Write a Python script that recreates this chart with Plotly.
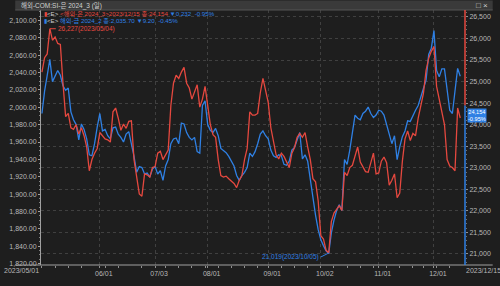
import pandas as pd
import plotly.graph_objects as go

# ---------------- data ----------------
holidays = ["2023-05-29", "2023-06-19", "2023-07-04", "2023-09-04", "2023-11-23"]
dates = [d for d in pd.bdate_range("2023-05-01", "2023-12-15").strftime("%Y-%m-%d") if d not in holidays]

silver = [25221, 25554, 25642, 26227, 25960, 26034, 25886, 25864, 24962, 24186,
          24260, 23928, 23891, 24002, 23780, 23928, 23743, 23484, 22930, 23189,
          23337, 23447, 23817, 23743, 23669, 23647, 23595, 24297, 24386, 24149,
          23869, 24016, 23913, 24075, 24090, 23189, 22745, 22391, 22339, 22856,
          22834, 22782, 23004, 23026, 23337, 23380, 23189, 23300, 23410, 24445,
          24962, 25147, 25073, 25220, 25332, 24962, 24851, 24593, 24755, 24925,
          24408, 24593, 24888, 24371, 24002, 23765, 23706, 23189, 22819, 22782,
          22804, 22745, 22686, 22634, 22538, 22708, 22819, 23189, 23447, 24297,
          24223, 24223, 24260, 24741, 25073, 24778, 24519, 23928, 23632, 23300,
          23204, 23337, 23263, 23115, 23004, 23337, 23470, 23706, 23795, 23706,
          23817, 23484, 23189, 22745, 22671, 22228, 21420, 21341, 21083, 21019,
          21748, 21947, 22043, 22117, 22006, 22893, 22819, 23004, 23056, 23300,
          23484, 23130, 23004, 22908, 22893, 23115, 23337, 22856, 22878, 23152,
          23248, 23115, 22597, 22708, 22856, 22302, 22413, 23152, 23669, 23854,
          23632, 23795, 23743, 24149, 24408, 24726, 25258, 25539, 25701, 25812,
          24888, 24593, 24297, 24002, 23189, 23041, 23004, 22930, 24386, 24154]

gold = [1992.9, 2018.6, 2036.9, 2055.3, 2029.6, 2035.1, 2042.4, 2036.9, 2024.8, 2019.7,
        2022.3, 1994.8, 1985.6, 1980.1, 1962.5, 1980.8, 1974.6, 1963.6, 1945.3, 1944.2,
        1958.1, 1977.2, 1992.9, 1972.8, 1974.6, 1967.3, 1963.6, 1976.4, 1977.2, 1969.1,
        1965.4, 1960.0, 1969.1, 1972.0, 1958.1, 1943.4, 1925.1, 1931.7, 1930.6, 1923.2,
        1924.3, 1919.6, 1928.8, 1931.7, 1923.2, 1926.9, 1915.9, 1932.4, 1939.8, 1958.1,
        1963.6, 1964.7, 1958.1, 1981.9, 1980.8, 1970.9, 1965.4, 1962.5, 1965.4, 1948.9,
        1947.1, 2002.1, 2007.6, 1980.1, 1973.5, 1970.9, 1975.7, 1967.3, 1952.6, 1950.0,
        1947.8, 1943.4, 1937.9, 1932.4, 1921.4, 1915.9, 1921.4, 1925.1, 1930.6, 1947.1,
        1943.4, 1948.9, 1958.1, 1969.1, 1972.8, 1967.3, 1963.6, 1950.7, 1944.2, 1942.3,
        1945.3, 1944.2, 1934.3, 1933.2, 1937.9, 1950.7, 1953.7, 1961.8, 1970.9, 1940.5,
        1945.3, 1937.9, 1917.8, 1892.1, 1875.6, 1859.1, 1847.3, 1840.7, 1834.5, 1831.6,
        1855.4, 1870.1, 1881.1, 1887.7, 1881.1, 1939.8, 1934.3, 1950.7, 1970.9, 1991.1,
        1987.4, 1985.6, 1992.9, 1995.5, 2000.3, 1992.9, 1988.2, 1991.1, 1996.6, 1995.5,
        1991.1, 1980.1, 1967.3, 1958.1, 1967.3, 1939.8, 1954.4, 1966.2, 1972.8, 1984.5,
        1983.8, 1991.1, 1996.6, 2002.1, 2011.3, 2020.4, 2031.4, 2060.8, 2068.1, 2088.3,
        2042.4, 2035.1, 2044.3, 2044.3, 2018.6, 1996.6, 1992.9, 2016.8, 2044.9, 2035.7]

tick_dates = ["2023-06-01", "2023-07-03", "2023-08-01", "2023-09-01", "2023-10-02", "2023-11-01", "2023-12-01"]
tick_text = ["06/01", "07/03", "08/01", "09/01", "10/02", "11/01", "12/01"]
left_ticks = list(range(1820, 2101, 20))
right_ticks = list(range(21000, 26501, 500))

# ---------------- styling ----------------
W, H = 500, 286
L, R, T, B = 27, 471, 10, 277
RED = "#e5483f"
BLUE = "#2f80e4"
BG = "#1e1e1e"
TXT = "#b8b8b8"
FONT = "Liberation Sans Narrow, Liberation Sans, Noto Sans CJK KR"


def px(x):
    return (x - L) / (R - L)


def py(y):
    return (B - y) / (B - T)


xi = list(range(len(dates)))
tickvals = [dates.index(d) for d in tick_dates]
mondays = [i for i, d in enumerate(dates) if pd.Timestamp(d).weekday() == 0]

fig = go.Figure()
fig.add_trace(go.Scatter(x=xi, y=silver, yaxis="y2", mode="lines",
                         line=dict(color=RED, width=1.3), customdata=dates,
                         hovertemplate="%{customdata}<br>%{y}<extra></extra>"))
fig.add_trace(go.Scatter(x=xi, y=gold, yaxis="y", mode="lines",
                         line=dict(color=BLUE, width=1.3), customdata=dates,
                         hovertemplate="%{customdata}<br>%{y}<extra></extra>"))

fig.update_layout(
    width=W, height=H, showlegend=False,
    margin=dict(l=L, r=W - R, t=T, b=H - B, pad=0),
    paper_bgcolor=BG, plot_bgcolor=BG,
    font=dict(family=FONT, size=7, color=TXT),
    xaxis=dict(range=[-0.36, 160.8], tickmode="array", tickvals=tickvals, ticktext=tick_text,
               showgrid=True, gridcolor="#404040", griddash="dot", gridwidth=1,
               showline=False, zeroline=False, ticks="outside", ticklen=2, tickcolor="#909090",
               ticklabelshift=4, tickfont=dict(size=7, color=TXT),
               minor=dict(tickmode="array", tickvals=mondays, ticks="outside", ticklen=2,
                          tickcolor="#909090", showgrid=False)),
    yaxis=dict(range=[1818.35, 2112.1], tickmode="array", tickvals=left_ticks,
               tickformat=",.2f", showgrid=False, zeroline=False,
               showline=True, linecolor="#a0a0a0", linewidth=1,
               ticks="outside", ticklen=2, tickcolor="#a0a0a0",
               minor=dict(dtick=5, ticks="outside", ticklen=1, tickcolor="#808080"),
               tickfont=dict(size=7, color=TXT)),
    yaxis2=dict(range=[20741, 26662], overlaying="y", side="right", tickmode="array",
                tickvals=right_ticks, tickformat=",d",
                showgrid=True, gridcolor="#404040", griddash="dot", gridwidth=1,
                zeroline=False, showline=False, ticks="outside", ticklen=2, tickcolor="#909090",
                minor=dict(dtick=100, ticks="outside", ticklen=1, tickcolor="#707070"),
                tickfont=dict(size=7, color=TXT)),
)

shapes = []
# header bar
shapes.append(dict(type="rect", xref="paper", yref="paper", x0=px(0), x1=px(W), y0=py(10), y1=py(0),
                   fillcolor="#3a3a3a", line=dict(width=0), layer="above"))
shapes.append(dict(type="line", xref="paper", yref="paper", x0=px(0), x1=px(W), y0=py(10), y1=py(10),
                   line=dict(color="#555555", width=1)))
# bottom axis line, full width
shapes.append(dict(type="line", xref="paper", yref="paper", x0=px(0), x1=px(W), y0=0, y1=0,
                   line=dict(color="#a0a0a0", width=1)))
# right price axis line: red upper, blue lower
split = 24445
shapes.append(dict(type="line", xref="paper", yref="y2", x0=1, x1=1, y0=split, y1=26662,
                   line=dict(color=RED, width=1.5)))
shapes.append(dict(type="line", xref="paper", yref="y2", x0=1, x1=1, y0=20741, y1=split,
                   line=dict(color=BLUE, width=1.5)))
fig.update_layout(shapes=shapes)

ann = []
# window title
ann.append(dict(xref="paper", yref="paper", x=px(4), y=py(5), xanchor="left", yanchor="middle",
                text="해외-COM:SI-은 2024_3 (일)", showarrow=False, font=dict(size=6.5, color="#d0d0d0")))
ann.append(dict(xref="paper", yref="paper", x=px(497), y=py(5), xanchor="right", yanchor="middle",
                text="□ ×", showarrow=False, font=dict(size=8, color="#d0d0d0")))
# series legends
ann.append(dict(xref="paper", yref="paper", x=px(28), y=py(14), xanchor="left", yanchor="middle",
                showarrow=False, font=dict(size=6.2),
                text=(f"<span style='color:{RED}'>▮</span><span style='color:#d0d0d0'>&lt;E&gt;</span> "
                      f"<span style='color:{RED}'>&lt;해외-은 2024_3&gt;2023/12/15 종:24.154</span> "
                      f"<span style='color:{BLUE}'>▼0.232  -0.95%</span>")))
ann.append(dict(xref="paper", yref="paper", x=px(28), y=py(22), xanchor="left", yanchor="middle",
                showarrow=False, font=dict(size=6.2),
                text=(f"<span style='color:{BLUE}'>▮</span><span style='color:#d0d0d0'>&lt;E&gt;</span> "
                      f"<span style='color:{BLUE}'>해외-금 2024_2 종:2,035.70 ▼9.20  -0.45%</span>")))
# max / min markers of silver
imax = silver.index(max(silver))
imin = silver.index(min(silver))
ann.append(dict(x=imax, y=silver[imax], xref="x", yref="y2", ax=6, ay=0, showarrow=True,
                arrowhead=0, arrowwidth=1, arrowcolor=RED, standoff=0, xanchor="left",
                text=f"{silver[imax]:,}({dates[imax].replace('-', '/')})", font=dict(size=6.5, color=RED)))
ann.append(dict(x=imin, y=silver[imin], xref="x", yref="y2", ax=-8, ay=4, showarrow=True,
                arrowhead=0, arrowwidth=1, arrowcolor=BLUE, standoff=0, xanchor="right",
                text=f"{silver[imin]:,}({dates[imin].replace('-', '/')})", font=dict(size=6.5, color=BLUE)))
# current price tag
ann.append(dict(xref="paper", yref="y2", x=px(473), y=silver[-1], xanchor="left", yanchor="middle",
                showarrow=False, bgcolor=BLUE, borderpad=0, yshift=3,
                text=f"{silver[-1]:,}<br>-0.95%", font=dict(size=5.6, color="#ffffff")))
# end date labels
ann.append(dict(xref="paper", yref="paper", x=px(27), y=py(282.5), xanchor="right", yanchor="middle",
                showarrow=False, text=dates[0].replace("-", "/"), font=dict(size=7, color=TXT)))
ann.append(dict(xref="paper", yref="paper", x=px(470), y=py(282.5), xanchor="left", yanchor="middle",
                showarrow=False, text=dates[-1].replace("-", "/"), font=dict(size=7, color=TXT)))
fig.update_layout(annotations=ann)

fig.write_html("out.html")
